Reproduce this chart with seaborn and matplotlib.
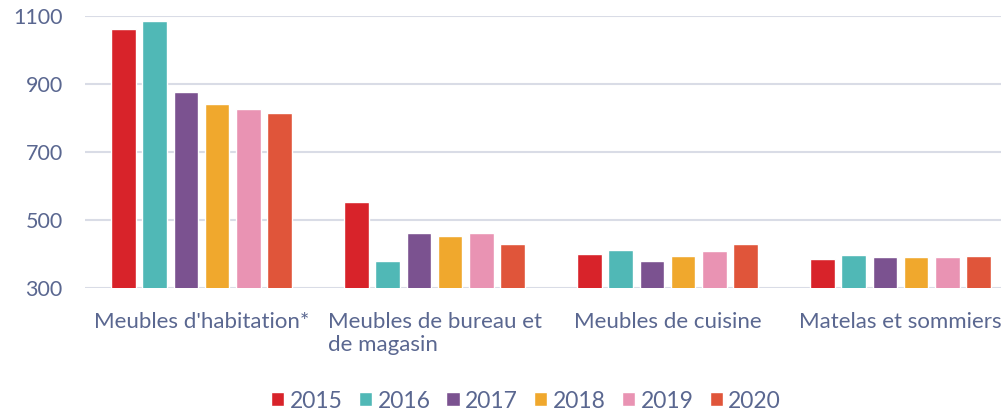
import pandas as pd
import seaborn as sns
import matplotlib.pyplot as plt

categories = ["Meubles d'habitation*", "Meubles de bureau et\nde magasin",
              "Meubles de cuisine", "Matelas et sommiers"]
years = ["2015", "2016", "2017", "2018", "2019", "2020"]
v2015 = [1061, 553, 402, 387]
v2016 = [1086, 380, 413, 399]
v2017 = [877, 462, 381, 392]
v2018 = [842, 454, 394, 392]
v2019 = [828, 462, 409, 391]
v2020 = [815, 431, 430, 394]
colors = ["#d8232a", "#50b8b6", "#7b5290", "#f0a82d", "#e993b3", "#e0553a"]

rows = []
for y, vals in zip(years, [v2015, v2016, v2017, v2018, v2019, v2020]):
    for c, v in zip(categories, vals):
        rows.append({"cat": c, "year": y, "val": v})
df = pd.DataFrame(rows)

sns.set_style("white")
plt.rcParams['font.family'] = ['Lato', 'DejaVu Sans']
txt = "#5a6790"

fig = plt.figure(figsize=(10.01, 4.13), dpi=100)
ax = fig.add_axes([85 / 1001, (413 - 288.3) / 413, 932 / 1001, (288.3 - 16) / 413])
sns.barplot(data=df, x="cat", y="val", hue="year", hue_order=years,
            palette=colors, width=0.8, gap=0.2, saturation=1, ax=ax)

ax.set_ylim(300, 1100)
ax.set_yticks([300, 500, 700, 900, 1100])
ax.set_xlim(-0.5, 3.5)
ax.grid(axis="y", color="#d9dce6", linewidth=1.5)
ax.set_axisbelow(True)
for s in ax.spines.values():
    s.set_visible(False)
ax.tick_params(axis="y", length=0, labelsize=15.5, colors=txt, pad=16)
ax.tick_params(axis="x", length=0, labelsize=16, colors=txt, pad=17)
for t in ax.get_xticklabels():
    t.set_multialignment("left")
ax.set_xlabel("")
ax.set_ylabel("")

h, l = ax.get_legend_handles_labels()
ax.legend(h, l, loc="center", bbox_to_anchor=(526 / 1001, (413 - 401) / 413),
          bbox_transform=fig.transFigure, ncol=6, frameon=False,
          fontsize=16.5, labelcolor=txt, handlelength=0.57, handleheight=0.57,
          handletextpad=0.25, columnspacing=0.7)

fig.savefig("out.png", dpi=100)
